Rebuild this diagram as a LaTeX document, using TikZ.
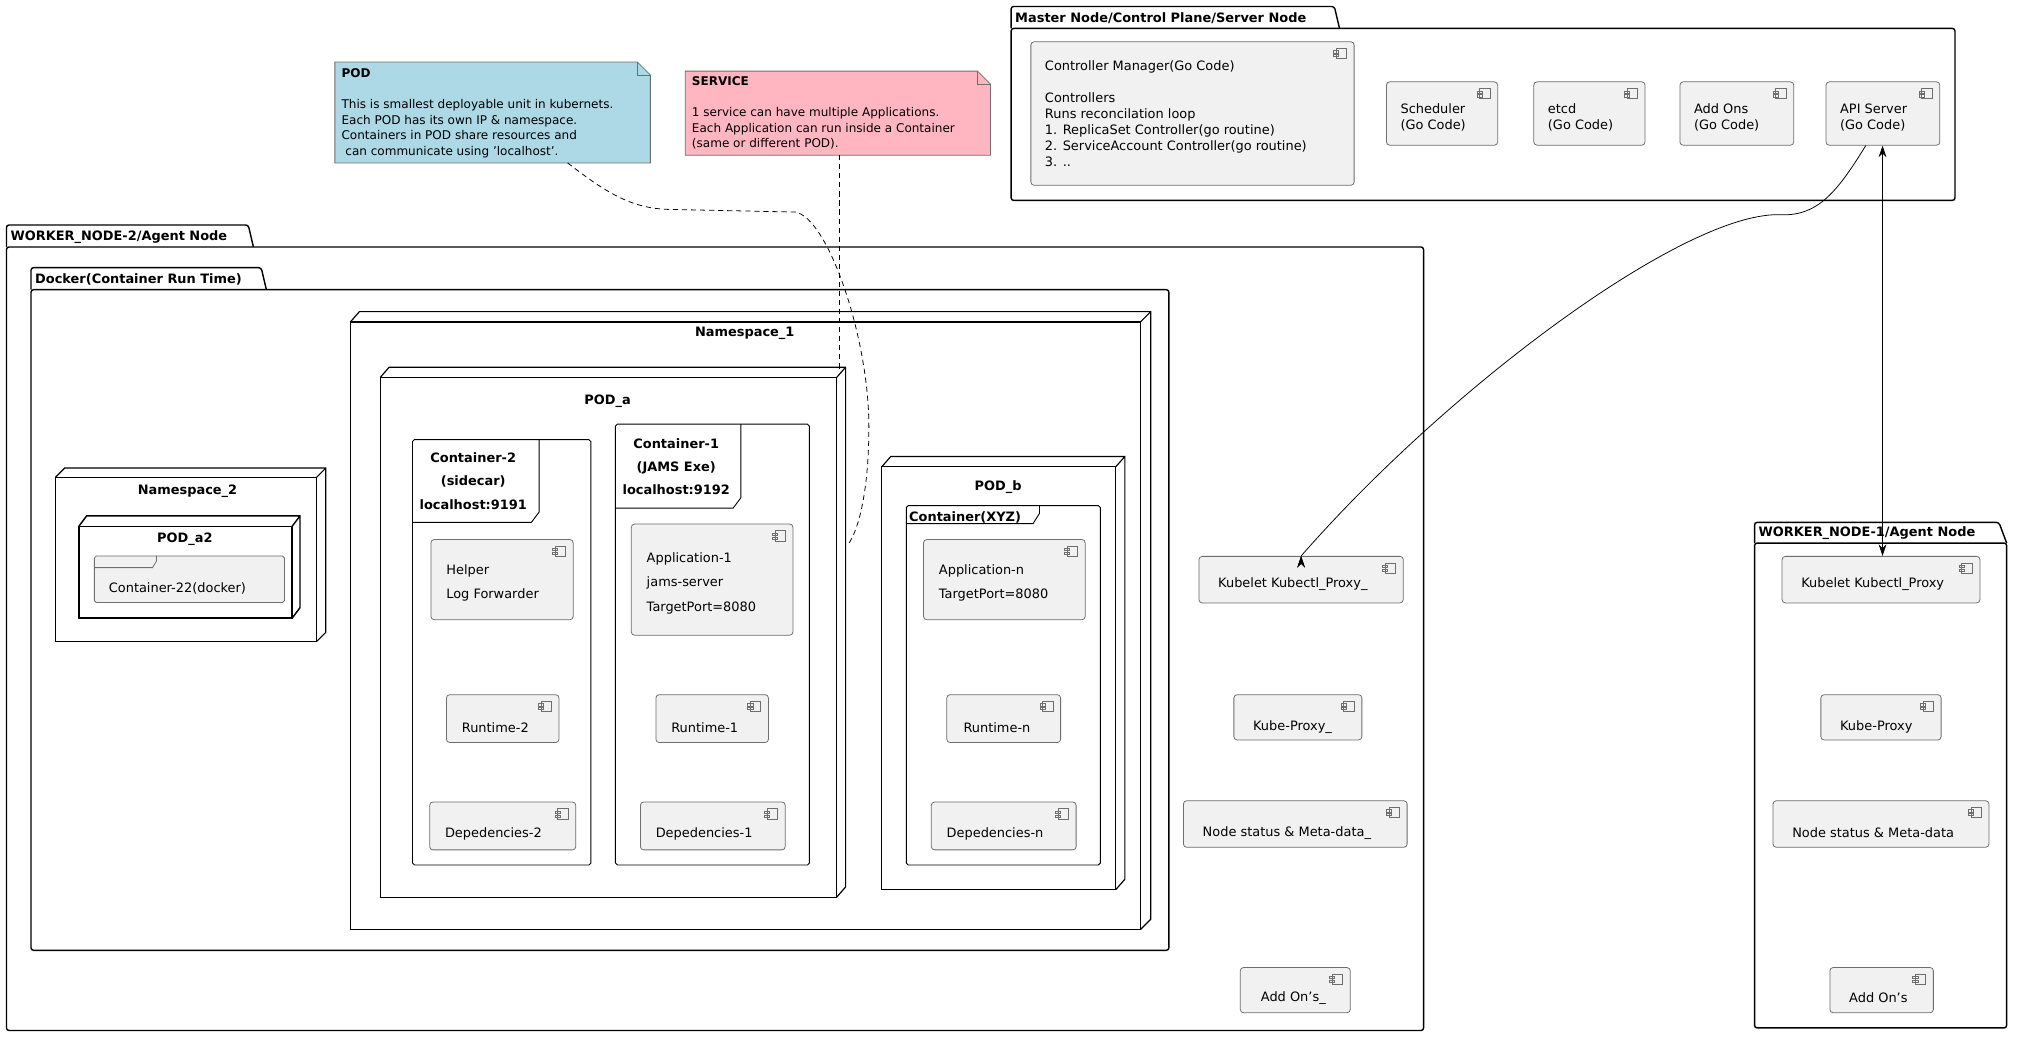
\documentclass[tikz,border=0pt]{standalone}
\usepackage{fontspec}
\setmainfont{DejaVu Sans}
\usetikzlibrary{arrows.meta}
\definecolor{compfill}{HTML}{F1F1F1}
\definecolor{compline}{HTML}{6E6E6E}
\definecolor{noteblue}{HTML}{ADD8E6}
\definecolor{notepink}{HTML}{FFB6C1}
\newcommand{\pkgbox}[6]{% name x1 ytab ybody x2 y2 ; tab right
}
\tikzset{
  comp/.style={draw=compline, fill=compfill, rounded corners=2.5pt, line width=0.6pt,
    font=\fontsize{10}{12}\selectfont, align=left, inner sep=0pt, anchor=north west,
    path picture={\draw[sharp corners, line width=0.5pt, compline]
      ([xshift=-14pt,yshift=-5pt]path picture bounding box.north east) rectangle ++(8pt,-8pt)
      ([xshift=-16pt,yshift=-7pt]path picture bounding box.north east) rectangle ++(4pt,-1.6pt)
      ([xshift=-16pt,yshift=-10pt]path picture bounding box.north east) rectangle ++(4pt,-1.6pt);}},
  pkg/.style={line width=1.1pt, rounded corners=2pt},
  ttl/.style={font=\bfseries\fontsize{10}{12}\selectfont, inner sep=0pt},
  ndbox/.style={line width=0.9pt},
  notetxt/.style={font=\fontsize{9.3}{12}\selectfont, align=left, inner sep=0pt, anchor=north west},
  conn/.style={line width=0.6pt, {Stealth[length=9pt,width=6pt]}-{Stealth[length=9pt,width=6pt]}},
  notelink/.style={line width=0.6pt, dashed, dash pattern=on 4pt off 3pt},
}
\begin{document}
\begin{tikzpicture}[x=1pt,y=-1pt]
\useasboundingbox (0,0) rectangle (1560,807);
\fill[white] (0,0) rectangle (1560,807);

% ---------- Master package
\draw[pkg] (782,22) -- (782,5) -- (1032,5) -- (1036,22);
\draw[pkg] (782,22) rectangle (1512,155);
\node[ttl, anchor=west] (mastert) at (785,14) {Master Node/Control Plane/Server Node};
\node[comp, minimum width=250pt, minimum height=111pt] (cm) at (797,32) {};
\node[font=\fontsize{10}{12.4}\selectfont, align=left, anchor=west, inner sep=0pt] (cmt) at (808,88) {Controller Manager(Go Code)\\[12pt]Controllers\\Runs reconcilation loop\\1. ReplicaSet Controller(go routine)\\2. ServiceAccount Controller(go routine)\\3. ..};
\node[comp, minimum width=86pt, minimum height=49pt] (sched) at (1072,63) {};
\node[font=\fontsize{10}{12.4}\selectfont, align=left, anchor=west, inner sep=0pt] at (1083,91) {Scheduler\\(Go Code)};
\node[comp, minimum width=86pt, minimum height=49pt] (etcd) at (1186,63) {};
\node[font=\fontsize{10}{12.4}\selectfont, align=left, anchor=west, inner sep=0pt] at (1197,91) {etcd\\(Go Code)};
\node[comp, minimum width=88pt, minimum height=49pt] (addons) at (1299,63) {};
\node[font=\fontsize{10}{12.4}\selectfont, align=left, anchor=west, inner sep=0pt] at (1310,91) {Add Ons\\(Go Code)};
\node[comp, minimum width=88pt, minimum height=49pt] (api) at (1412,63) {};
\node[font=\fontsize{10}{12.4}\selectfont, align=left, anchor=west, inner sep=0pt] at (1423,91) {API Server\\(Go Code)};

% ---------- WORKER_NODE-2
\draw[pkg] (5,191) -- (5,174) -- (192,174) -- (196,191);
\draw[pkg] (5,191) rectangle (1101,797);
\node[ttl, anchor=west] (w2t) at (8,183) {WORKER\_NODE-2/Agent Node};
% Docker
\draw[pkg] (24,224) -- (24,207) -- (202,207) -- (206,224);
\draw[pkg] (24,224) rectangle (904,735);
\node[ttl, anchor=west] (dockt) at (27,216) {Docker(Container Run Time)};

% Namespace_1
\draw[ndbox] (271,249) rectangle (882,719);
\draw[ndbox] (271,249) -- (278,241) -- (890,241) -- (890,711) -- (882,719) (882,249) -- (890,241);
\node[ttl] (ns1t) at (576,258) {Namespace\_1};
% POD_a
\draw[ndbox] (294,292) rectangle (647,694);
\draw[ndbox] (294,292) -- (301,284) -- (654,284) -- (654,686) -- (647,694) (647,292) -- (654,284);
\node[ttl] (podat) at (470,310) {POD\_a};
% Container-2 frame
\draw[line width=0.7pt, rounded corners=1.5pt] (319,340) rectangle (457,669);
\draw[line width=0.7pt] (319,404) -- (411,404) -- (417,396) -- (417,340);
\node[ttl, align=center, font=\bfseries\fontsize{10}{16}\selectfont] (c2t) at (366,372) {Container-2\\[2pt](sidecar)\\[2pt]localhost:9191};
% Container-1 frame
\draw[line width=0.7pt, rounded corners=1.5pt] (476,328) rectangle (626,669);
\draw[line width=0.7pt] (476,393) -- (567,393) -- (573,385) -- (573,328);
\node[ttl, align=center, font=\bfseries\fontsize{10}{16}\selectfont] (c1t) at (523,361) {Container-1\\[2pt](JAMS Exe)\\[2pt]localhost:9192};

\node[comp, minimum width=110pt, minimum height=62pt] (helper) at (333,417) {};
\node[font=\fontsize{10}{14}\selectfont, align=left, anchor=west, inner sep=0pt] at (345,451) {Helper\\[5pt]Log Forwarder};
\node[comp, minimum width=87pt, minimum height=37pt] (rt2) at (345,537) {};
\node[font=\fontsize{10}{12}\selectfont, anchor=west, inner sep=0pt] at (357,563) {Runtime-2};
\node[comp, minimum width=113pt, minimum height=37pt] (dep2) at (332,620) {};
\node[font=\fontsize{10}{12}\selectfont, anchor=west, inner sep=0pt] at (344,645) {Depedencies-2};

\node[comp, minimum width=125pt, minimum height=86pt] (app1) at (488,405) {};
\node[font=\fontsize{10}{14}\selectfont, align=left, anchor=west, inner sep=0pt] at (500,451) {Application-1\\[5pt]jams-server\\[5pt]TargetPort=8080};
\node[comp, minimum width=87pt, minimum height=37pt] (rt1) at (507,537) {};
\node[font=\fontsize{10}{12}\selectfont, anchor=west, inner sep=0pt] at (519,563) {Runtime-1};
\node[comp, minimum width=112pt, minimum height=37pt] (dep1) at (495,620) {};
\node[font=\fontsize{10}{12}\selectfont, anchor=west, inner sep=0pt] at (507,645) {Depedencies-1};

% POD_b
\draw[ndbox] (682,361) rectangle (863,688);
\draw[ndbox] (682,361) -- (689,353) -- (870,353) -- (870,680) -- (863,688) (863,361) -- (870,353);
\node[ttl] (podbt) at (772,377) {POD\_b};
\draw[line width=0.7pt, rounded corners=1.5pt] (701,391) rectangle (851,669);
\draw[line width=0.7pt] (701,405) -- (799,405) -- (804,397) -- (804,391);
\node[ttl, anchor=west] (cxt) at (703,400) {Container(XYZ)};
\node[comp, minimum width=125pt, minimum height=62pt] (appn) at (714,417) {};
\node[font=\fontsize{10}{14}\selectfont, align=left, anchor=west, inner sep=0pt] at (726,451) {Application-n\\[5pt]TargetPort=8080};
\node[comp, minimum width=88pt, minimum height=37pt] (rtn) at (732,537) {};
\node[font=\fontsize{10}{12}\selectfont, anchor=west, inner sep=0pt] at (745,563) {Runtime-n};
\node[comp, minimum width=112pt, minimum height=37pt] (depn) at (720,620) {};
\node[font=\fontsize{10}{12}\selectfont, anchor=west, inner sep=0pt] at (732,645) {Depedencies-n};

% Namespace_2
\draw[ndbox] (43,369) rectangle (245,496);
\draw[ndbox] (43,369) -- (50,362) -- (252,362) -- (252,489) -- (245,496) (245,369) -- (252,362);
\node[ttl] (ns2t) at (145,380) {Namespace\_2};
\draw[line width=1.1pt] (61,407) rectangle (226,478);
\draw[line width=1.1pt] (61,407) -- (67,399) -- (232,399) -- (232,470) -- (226,478) (226,407) -- (232,399);
\node[ttl] (poda2t) at (143,417) {POD\_a2};
\draw[compline, fill=compfill, line width=0.6pt, rounded corners=1.5pt] (73,430) rectangle (220,466);
\draw[compline, line width=0.6pt] (73,439) -- (118,439) -- (121,434) -- (121,430);
\node[font=\fontsize{10}{12}\selectfont, anchor=west, inner sep=0pt] (c22) at (84,455) {Container-22(docker)};

% worker 2 services
\node[comp, minimum width=158pt, minimum height=36pt] (kub2) at (927,430) {};
\node[font=\fontsize{10}{12}\selectfont, anchor=west, inner sep=0pt] at (942,452) {Kubelet Kubectl\_Proxy\_};
\node[comp, minimum width=99pt, minimum height=35pt] (kp2) at (954,537) {};
\node[font=\fontsize{10}{12}\selectfont, anchor=west, inner sep=0pt] at (969,562) {Kube-Proxy\_};
\node[comp, minimum width=173pt, minimum height=36pt] (nsm2) at (915,619) {};
\node[font=\fontsize{10}{12}\selectfont, anchor=west, inner sep=0pt] at (930,644) {Node status \& Meta-data\_};
\node[comp, minimum width=85pt, minimum height=35pt] (ao2) at (959,748) {};
\node[font=\fontsize{10}{12}\selectfont, anchor=west, inner sep=0pt] at (975,772) {Add On's\_};

% ---------- WORKER_NODE-1
\draw[pkg] (1357,420) -- (1357,404) -- (1546,404) -- (1552,420);
\draw[pkg] (1357,420) rectangle (1552,795);
\node[ttl, anchor=west] (w1t) at (1360,412) {WORKER\_NODE-1/Agent Node};
\node[comp, minimum width=153pt, minimum height=36pt] (kub1) at (1378,430) {};
\node[font=\fontsize{10}{12}\selectfont, anchor=west, inner sep=0pt] at (1393,452) {Kubelet Kubectl\_Proxy};
\node[comp, minimum width=93pt, minimum height=35pt] (kp1) at (1408,537) {};
\node[font=\fontsize{10}{12}\selectfont, anchor=west, inner sep=0pt] at (1423,562) {Kube-Proxy};
\node[comp, minimum width=167pt, minimum height=36pt] (nsm1) at (1371,619) {};
\node[font=\fontsize{10}{12}\selectfont, anchor=west, inner sep=0pt] at (1386,644) {Node status \& Meta-data};
\node[comp, minimum width=80pt, minimum height=35pt] (ao1) at (1415,748) {};
\node[font=\fontsize{10}{12}\selectfont, anchor=west, inner sep=0pt] at (1430,772) {Add On's};

% ---------- notes
\draw[compline, fill=noteblue, line width=0.6pt] (259,48) -- (493,48) -- (503,58) -- (503,126) -- (259,126) -- cycle;
\draw[compline, line width=0.6pt] (493,48) -- (493,58) -- (503,58);
\node[notetxt] (podnote) at (264,53) {\textbf{POD}\\[12pt]This is smallest deployable unit in kubernets.\\Each POD has its own IP \& namespace.\\Containers in POD share resources and\\\ can communicate using 'localhost'.};
\coordinate (podnoteb) at (439,126);
\draw[compline, fill=notepink, line width=0.6pt] (530,55) -- (756,55) -- (766,65) -- (766,120) -- (530,120) -- cycle;
\draw[compline, line width=0.6pt] (756,55) -- (756,65) -- (766,65);
\node[notetxt] (svcnote) at (535,59) {\textbf{SERVICE}\\[12pt]1 service can have multiple Applications.\\Each Application can run inside a Container\\(same or different POD).};
\coordinate (svcnoteb) at (649,120);
\coordinate (podaright) at (656,421);
\coordinate (podatop) at (649,286);

\draw[notelink] (podnoteb) .. controls (470,150) and (490,162) .. (520,162) -- (615,164)
  .. controls (640,168) and (672,260) .. (672,330) .. controls (672,380) and (664,410) .. (podaright);
\draw[notelink] (svcnoteb) -- (podatop);

% ---------- connectors
\draw[conn] (api.south west) ++(31,0) coordinate (apis1) .. controls (1420,150) and (1405,168) .. (1375,166)
  .. controls (1300,166) and (1120,300) .. (kub2.north) ++(0,0);
\draw[conn] ([xshift=44pt]api.south west) -- ([xshift=78pt]kub1.north west);
\end{tikzpicture}
\end{document}
